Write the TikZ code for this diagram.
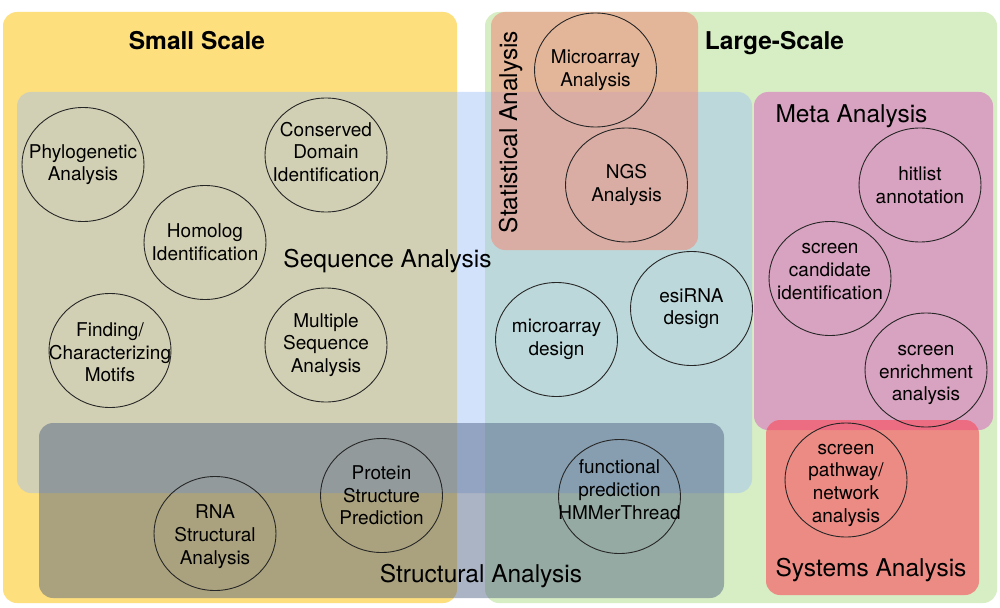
\documentclass[tikz,border=0pt]{standalone}
\usepackage{fontspec}
\setmainfont{TeX Gyre Heros}
\usetikzlibrary{shapes.geometric}
\definecolor{cyellow}{HTML}{FDDF7E}
\definecolor{cgreen}{HTML}{D7EDC3}
\definecolor{cseq}{HTML}{9EBFF7}
\definecolor{cstruct}{HTML}{46597E}
\definecolor{cstat}{HTML}{F08A78}
\definecolor{cmeta}{HTML}{D968BE}
\definecolor{csys}{HTML}{FA4A5A}
\begin{document}
\begin{tikzpicture}[x=1pt,y=-1pt,
  region/.style={rounded corners=14pt},
  bub/.style={draw=black!85, line width=0.9pt, ellipse, minimum width=122pt, minimum height=114pt, inner sep=0pt},
  btxt/.style={align=center, font=\fontsize{19}{22.7}\selectfont, inner sep=0pt},
  big/.style={font=\fontsize{24.5}{28}\selectfont, inner sep=0pt, anchor=base},
  bigb/.style={font=\bfseries\fontsize{24.5}{28}\selectfont, inner sep=0pt, anchor=base}]
\useasboundingbox (0,0) rectangle (1000,607);
\fill[white] (0,0) rectangle (1000,607);
% scale regions
\fill[region, cyellow] (3,12) rectangle (457,603);
\fill[region, cgreen] (485,12) rectangle (997,603);
% analysis regions
\fill[region, cseq, fill opacity=0.45] (17,92) rectangle (752,493);
\fill[region, cstat, fill opacity=0.55] (491,12) rectangle (698,250);
\fill[region, cmeta, fill opacity=0.55] (754,92) rectangle (993,430);
\fill[region, csys, fill opacity=0.6] (766,420) rectangle (979,595);
\fill[region, cstruct, fill opacity=0.45] (39,423) rectangle (724,598);
% titles
\node[bigb] (tsmall) at (197,50) {Small Scale};
\node[bigb] (tlarge) at (774.5,50) {Large-Scale};
\node[big] (tseq) at (387.5,267) {Sequence Analysis};
\node[big] (tmeta) at (851.5,122) {Meta Analysis};
\node[big] (tstruct) at (481,582) {Structural Analysis};
\node[big] (tsys) at (871,576) {Systems Analysis};
\node[big, rotate=90] (tstat) at (517,132) {Statistical Analysis};
% bubbles
\node[bub] (phylo) at (83,164.5) {};
\node[btxt] at (phylo) {Phylogenetic\\Analysis};
\node[bub] (cons) at (326,155) {};
\node[btxt] at ([yshift=3]cons) {Conserved\\Domain\\Identification};
\node[bub] (homo) at (205,242.5) {};
\node[btxt] at (homo) {Homolog\\Identification};
\node[bub] (motif) at (110,350.5) {};
\node[btxt] at ([yshift=-2]motif) {Finding/\\Characterizing\\Motifs};
\node[bub] (msa) at (326,345) {};
\node[btxt] at (msa) {Multiple\\Sequence\\Analysis};
\node[bub] (rna) at (215,533.5) {};
\node[btxt] at ([yshift=-3]rna) {RNA\\Structural\\Analysis};
\node[bub] (prot) at (381.5,495.5) {};
\node[btxt] at (prot) {Protein\\Structure\\Prediction};
\node[bub] (func) at (619.5,496.5) {};
\node[btxt] at ([yshift=7]func) {functional\\prediction\\HMMerThread};
\node[bub] (mad) at (556.5,339.5) {};
\node[btxt] at (mad) {microarray\\design};
\node[bub] (esi) at (691.5,308.5) {};
\node[btxt] at (esi) {esiRNA\\design};
\node[bub] (maa) at (595.5,70) {};
\node[btxt] at (maa) {Microarray\\Analysis};
\node[bub] (ngs) at (626.5,185) {};
\node[btxt] at (ngs) {NGS\\Analysis};
\node[bub] (hit) at (920,185) {};
\node[btxt] at (hit) {hitlist\\annotation};
\node[bub] (cand) at (830,278.5) {};
\node[btxt] at ([yshift=7]cand) {screen\\candidate\\identification};
\node[bub] (enr) at (926,370) {};
\node[btxt] at ([yshift=-5]enr) {screen\\enrichment\\analysis};
\node[bub] (path) at (846,480) {};
\node[btxt] at ([yshift=-5]path) {screen\\pathway/\\network\\analysis};
\end{tikzpicture}
\end{document}
